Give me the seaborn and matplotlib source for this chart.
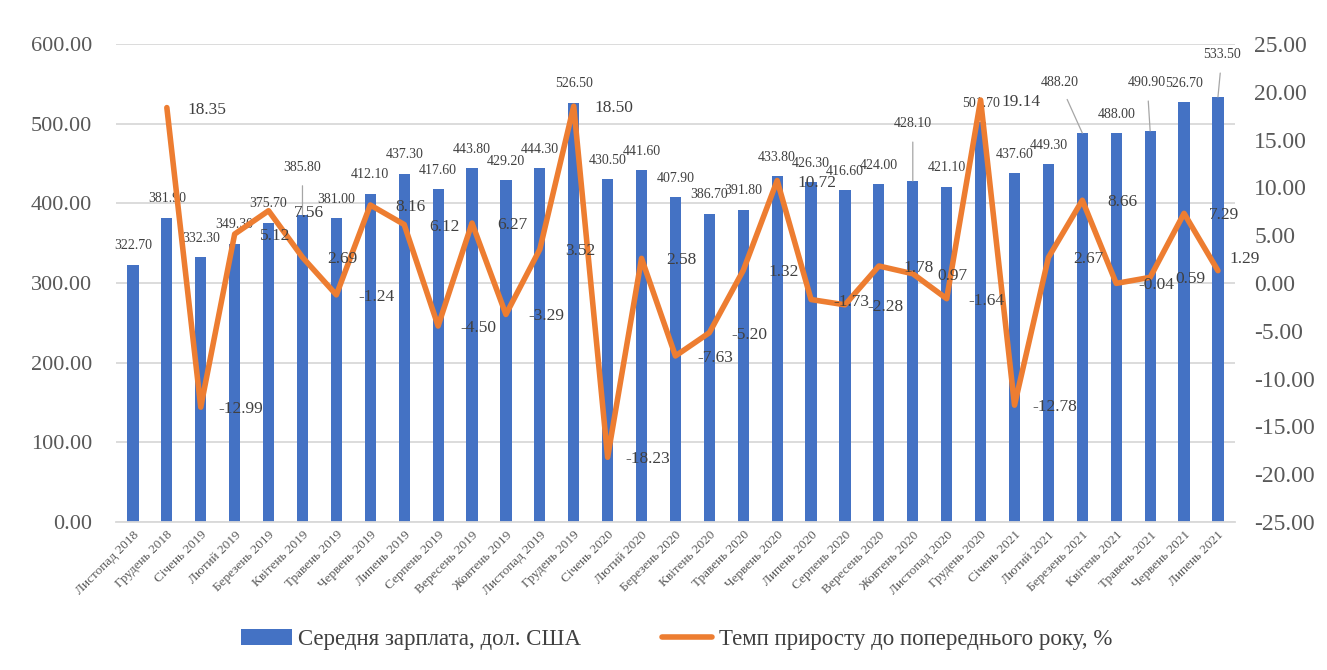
import numpy as np
import pandas as pd
import seaborn as sns
import matplotlib.pyplot as plt
from matplotlib.ticker import FormatStrFormatter

months = ['Листопад 2018', 'Грудень 2018', 'Січень 2019', 'Лютий 2019', 'Березень 2019',
          'Квітень 2019', 'Травень 2019', 'Червень 2019', 'Липень 2019', 'Серпень 2019',
          'Вересень 2019', 'Жовтень 2019', 'Листопад 2019', 'Грудень 2019', 'Січень 2020',
          'Лютий 2020', 'Березень 2020', 'Квітень 2020', 'Травень 2020', 'Червень 2020',
          'Липень 2020', 'Серпень 2020', 'Вересень 2020', 'Жовтень 2020', 'Листопад 2020',
          'Грудень 2020', 'Січень 2021', 'Лютий 2021', 'Березень 2021', 'Квітень 2021',
          'Травень 2021', 'Червень 2021', 'Липень 2021']

salary = [322.70, 381.90, 332.30, 349.30, 375.70, 385.80, 381.00, 412.10, 437.30, 417.60,
          443.80, 429.20, 444.30, 526.50, 430.50, 441.60, 407.90, 386.70, 391.80, 433.80,
          426.30, 416.60, 424.00, 428.10, 421.10, 501.70, 437.60, 449.30, 488.20, 488.00,
          490.90, 526.70, 533.50]

# no growth value for the first month
growth = [np.nan, 18.35, -12.99, 5.12, 7.56, 2.69, -1.24, 8.16, 6.12, -4.50, 6.27, -3.29,
          3.52, 18.50, -18.23, 2.58, -7.63, -5.20, 1.32, 10.72, -1.73, -2.28, 1.78, 0.97,
          -1.64, 19.14, -12.78, 2.67, 8.66, -0.04, 0.59, 7.29, 1.29]

bar_name = 'Середня зарплата, дол. США'
line_name = 'Темп приросту до попереднього року, %'

df = pd.DataFrame({'month': months, 'salary': salary, 'growth': growth})
df['pos'] = np.arange(len(df))

sns.set_theme(style='white')
plt.rcParams['font.family'] = ['Liberation Serif', 'DejaVu Serif']

BLUE = '#4472C4'
ORANGE = '#ED7D31'
GRID = '#D9D9D9'
TXT = '#404040'
TICK = '#595959'

fig = plt.figure(figsize=(13.27, 6.70), dpi=100)
ax = fig.add_axes([0.0874, 0.2209, 0.8432, 0.7134])

sns.barplot(data=df, x='month', y='salary', color=BLUE, width=0.33, linewidth=0,
            saturation=1, label=bar_name, ax=ax, zorder=2)
ax.set_ylim(0, 600)
ax.set_yticks(np.arange(0, 601, 100))
ax.yaxis.set_major_formatter(FormatStrFormatter('%.2f'))
ax.grid(axis='y', color=GRID, lw=1.3, zorder=0)
ax.set_axisbelow(True)
ax.set_xlabel('')
ax.set_ylabel('')
ax.set_xlim(-0.5, len(df) - 0.5)
for s in ['top', 'right', 'left']:
    ax.spines[s].set_visible(False)
ax.spines['bottom'].set_color(GRID)
ax.spines['bottom'].set_linewidth(1.3)
ax.tick_params(axis='y', length=0, pad=17, labelsize=16, labelcolor=TICK)
ax.tick_params(axis='x', length=0, pad=5, labelsize=9.5, labelcolor=TICK)
plt.setp(ax.get_xticklabels(), rotation=45, ha='right', rotation_mode='anchor')

# bar labels, a few pushed up with leader lines
bar_shift = {5: (0, 47), 23: (0, 57), 28: (-23, 51), 30: (-3, 48), 32: (4, 42)}
for i, v in enumerate(salary):
    if i in bar_shift:
        dx, dy = bar_shift[i]
        ax.annotate(f'{v:.2f}', (i, v), xytext=(dx, dy), textcoords='offset pixels',
                    ha='center', va='center', fontsize=10, color=TXT,
                    arrowprops=dict(arrowstyle='-', color='#A6A6A6', lw=0.9,
                                    shrinkA=6, shrinkB=0))
    else:
        ax.annotate(f'{v:.2f}', (i, v), xytext=(0, 19), textcoords='offset pixels',
                    ha='center', va='center', fontsize=10, color=TXT)

ax2 = ax.twinx()
sns.lineplot(data=df.dropna(), x='pos', y='growth', color=ORANGE, lw=4,
             label=line_name, ax=ax2, legend=False, zorder=3)
ax2.set_ylim(-25, 25)
ax2.set_yticks(np.arange(-25, 26, 5))
ax2.yaxis.set_major_formatter(FormatStrFormatter('%.2f'))
ax2.set_ylabel('')
ax2.set_xlabel('')
for s in ax2.spines.values():
    s.set_visible(False)
ax2.tick_params(axis='y', length=0, pad=14, labelsize=17, labelcolor=TICK)
ax2.set_xlim(-0.5, len(df) - 0.5)

# growth labels sit to the right of each point; the last one is nudged up
line_shift = {32: (27, 12)}
for p, g in zip(df['pos'], df['growth']):
    if np.isnan(g):
        continue
    dx, dy = line_shift.get(p, (40, -2))
    ax2.annotate(f'{g:.2f}', (p, g), xytext=(dx, dy), textcoords='offset pixels',
                 ha='center', va='center', fontsize=12.5, color=TXT)

h1, l1 = ax.get_legend_handles_labels()
h2, l2 = ax2.get_legend_handles_labels()
if ax.get_legend() is not None:
    ax.get_legend().remove()
fig.legend(h1 + h2, l1 + l2, loc='center', bbox_to_anchor=(0.51, 0.045), ncol=2,
           frameon=False, fontsize=16.5, labelcolor=TXT, columnspacing=3.5,
           handlelength=2.2, handletextpad=0.3)

fig.savefig('out.png', dpi=100, facecolor='white')
